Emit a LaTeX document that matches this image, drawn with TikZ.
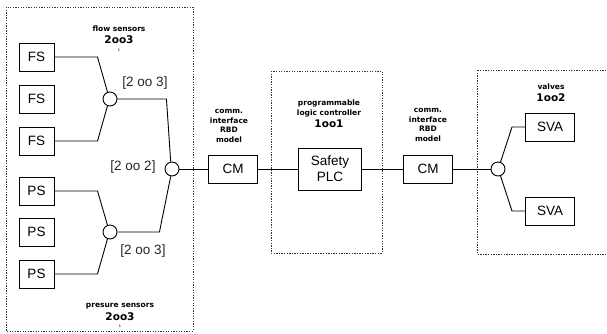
\documentclass[tikz,border=0pt]{standalone}
\usepackage{fontspec}
\setmainfont{Liberation Sans}
\newfontfamily\labelfont{DejaVu Sans}
\usepackage{tikz}
\usetikzlibrary{positioning}

\tikzset{
	block/.style={draw, line width=1pt, minimum height=28pt, inner sep=0pt, font=\fontsize{13.5}{16}\selectfont},
	voter/.style={draw, circle, line width=0.9pt, minimum size=14pt, inner sep=0pt, fill=white},
	group/.style={draw, line width=1pt, dash pattern=on 1.3pt off 1.3pt, black!80},
	wire/.style={line width=0.9pt},
	vlabel/.style={font=\fontsize{13.5}{16}\selectfont, text=black!85},
	title/.style={font=\labelfont\bfseries\fontsize{7.5}{9.8}\selectfont, align=center},
	vote/.style={font=\labelfont\bfseries\fontsize{10.5}{12}\selectfont},
	note/.style={font=\fontsize{4}{5}\selectfont, inner sep=0pt},
}

\begin{document}
\begin{tikzpicture}[x=1pt, y=-1pt]
	\useasboundingbox (0,0) rectangle (607,333);

	% Groups
	\draw[group] (6,7) rectangle (193,331);
	\draw[group] (271,71) rectangle (382,253);
	\draw[group] (477,70) rectangle (615,254);

	% Sensors
	\foreach \n/\y in {1/57, 2/99, 3/141} {
		\node[block, minimum width=35pt] (fs\n) at (36.5,\y) {FS};
	}
	\foreach \n/\y in {1/191, 2/232, 3/274} {
		\node[block, minimum width=35pt] (ps\n) at (36.5,\y) {PS};
	}

	% Voting nodes
	\node[voter] (fv) at (110,99) {};
	\node[voter] (pv) at (110,232) {};
	\node[voter] (bv) at (172,169) {};
	\node[voter] (vv) at (498,169) {};

	% Chain
	\node[block, minimum width=49pt] (cm1) at (233,169) {CM};
	\node[block, minimum width=63pt, minimum height=42pt, align=center] (plc) at (330,169) {Safety\\PLC};
	\node[block, minimum width=49pt] (cm2) at (428,169) {CM};
	\node[block, minimum width=49pt] (sva1) at (550,127) {SVA};
	\node[block, minimum width=49pt] (sva2) at (550,211) {SVA};

	% Wires
	\draw[wire] (fs1.east) -- ++(43,0) -- (fv.110);
	\draw[wire] (fs3.east) -- ++(43,0) -- (fv.250);
	\draw[wire] (ps1.east) -- ++(43,0) -- (pv.110);
	\draw[wire] (ps3.east) -- ++(43,0) -- (pv.250);
	\draw[wire] (fv.east) -- ++(49,0) -- (bv.100);
	\draw[wire] (pv.east) -- ++(42,0) -- (bv.260);
	\draw[wire] (bv) -- (cm1) -- (plc) -- (cm2) -- (vv);
	\draw[wire] (vv.70) -- ([xshift=-13pt]sva1.west) -- (sva1.west);
	\draw[wire] (vv.290) -- ([xshift=-13pt]sva2.west) -- (sva2.west);

	% Voting labels
	\node[vlabel] (fvl) at (145,83) {[2 oo 3]};
	\node[vlabel] (bvl) at (133,167) {[2 oo 2]};
	\node[vlabel] (pvl) at (143,251) {[2 oo 3]};

	% Titles
	\node[title] (fst) at (119,29) {flow sensors};
	\node[vote] (fsv) at (119,40) {2oo3};
	\node[note] (fsn) at (119,50) {1};
	\node[title] (pst) at (120,306) {presure sensors};
	\node[vote] (psv) at (120,317) {2oo3};
	\node[note] (psn) at (120,326) {1};
	\node[title] (cmt1) at (229,126) {comm.\\interface\\RBD\\model};
	\node[title] (cmt2) at (428,125) {comm.\\interface\\RBD\\model};
	\node[title] (plct) at (329,108.5) {programmable\\logic controller};
	\node[vote] (plcv) at (329,124) {1oo1};
	\node[title] (vat) at (551,87) {valves};
	\node[vote] (vav) at (551,98) {1oo2};
\end{tikzpicture}
\end{document}
